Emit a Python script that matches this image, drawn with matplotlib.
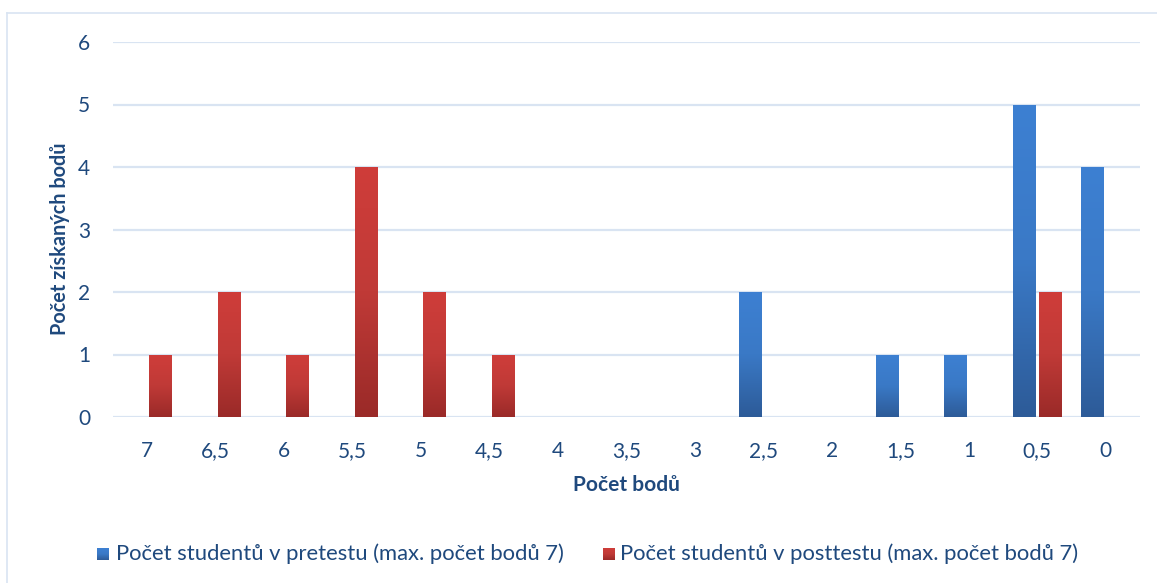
import numpy as np
import matplotlib
matplotlib.use("Agg")
import matplotlib.pyplot as plt
from matplotlib.colors import LinearSegmentedColormap
from matplotlib import patheffects as pe
from matplotlib.lines import Line2D

# Data
categories = ["7", "6,5", "6", "5,5", "5", "4,5", "4", "3,5", "3", "2,5", "2", "1,5", "1", "0,5", "0"]
pretest = [0, 0, 0, 0, 0, 0, 0, 0, 0, 2, 0, 1, 1, 5, 4]
posttest = [1, 2, 1, 4, 2, 1, 0, 0, 0, 0, 0, 0, 0, 2, 0]
series_names = ["Počet studentů v pretestu (max. počet bodů 7)",
                "Počet studentů v posttestu (max. počet bodů 7)"]
x_title = "Počet bodů"
y_title = "Počet získaných bodů"

plt.rcParams["font.family"] = ["Lato", "DejaVu Sans"]
TEXT = "#1F497D"
GRID = "#D9E4F2"

blue_cmap = LinearSegmentedColormap.from_list("b", ["#2D5B98", "#3A79C6", "#3D80D2"])
red_cmap = LinearSegmentedColormap.from_list("r", ["#9A2A28", "#C03A37", "#CF3D3A"])

W, H = 1157, 583
fig = plt.figure(figsize=(W / 100, H / 100), dpi=100)
fig.patch.set_facecolor("white")

# chart frame (top and left edges visible)
fig.add_artist(Line2D([7 / W, 1.0], [1 - 13 / H, 1 - 13 / H], color=GRID, lw=1.2))
fig.add_artist(Line2D([7 / W, 7 / W], [0, 1 - 13 / H], color=GRID, lw=1.2))

ax = fig.add_axes([113 / W, 1 - 417 / H, (1140 - 113) / W, (417 - 42) / H])
for s in ax.spines.values():
    s.set_visible(False)
ax.set_yticks(range(0, 7))
ax.yaxis.grid(True, color=GRID, lw=1.6)
ax.set_axisbelow(True)
ax.tick_params(axis="both", length=0, labelsize=15, labelcolor=TEXT)
ax.tick_params(axis="y", pad=16.5)
ax.tick_params(axis="x", pad=17)
ax.set_xticks(range(len(categories)))
ax.set_xticklabels(categories)

ax.set_xlabel(x_title, fontsize=15, fontweight="bold", color=TEXT, va="center")
ax.xaxis.set_label_coords(0.4995, -0.181)
ax.set_ylabel(y_title, fontsize=14.3, fontweight="bold", color=TEXT, va="center")
ax.yaxis.set_label_coords(-0.052, 0.475)

x = np.arange(len(categories))
width = 0.33
offset = 0.197
grad = np.linspace(0, 1, 256).reshape(-1, 1)

shadow = [pe.SimplePatchShadow(offset=(0, -1.5), shadow_rgbFace="#7f7f7f", alpha=0.35), pe.Normal()]

for vals, dx, cmap in ((pretest, -offset, blue_cmap), (posttest, offset, red_cmap)):
    bars = ax.bar(x + dx, vals, width=width, color=cmap(0.6), lw=0, zorder=2)
    for b, v in zip(bars, vals):
        if v <= 0:
            b.set_visible(False)
            continue
        b.set_path_effects(shadow)
        x0 = b.get_x()
        im = ax.imshow(grad, cmap=cmap, origin="lower", aspect="auto",
                       extent=[x0, x0 + b.get_width(), 0, b.get_height()],
                       interpolation="bilinear", zorder=3)
        im.set_clip_path(b)
ax.set_xlim(-0.5, len(categories) - 0.5)
ax.set_ylim(0, 6)

# legend
def legend_square(px, cmap):
    lax = fig.add_axes([px / W, 1 - 560 / H, 12 / W, 12 / H])
    lax.imshow(grad, cmap=cmap, origin="lower", aspect="auto")
    lax.axis("off")

legend_square(97, blue_cmap)
fig.text(116 / W, 1 - 554 / H, series_names[0], fontsize=15.8, color=TEXT, va="center", ha="left")
legend_square(603, red_cmap)
fig.text(620 / W, 1 - 554 / H, series_names[1], fontsize=15.8, color=TEXT, va="center", ha="left")

fig.savefig("out.png", dpi=100)
